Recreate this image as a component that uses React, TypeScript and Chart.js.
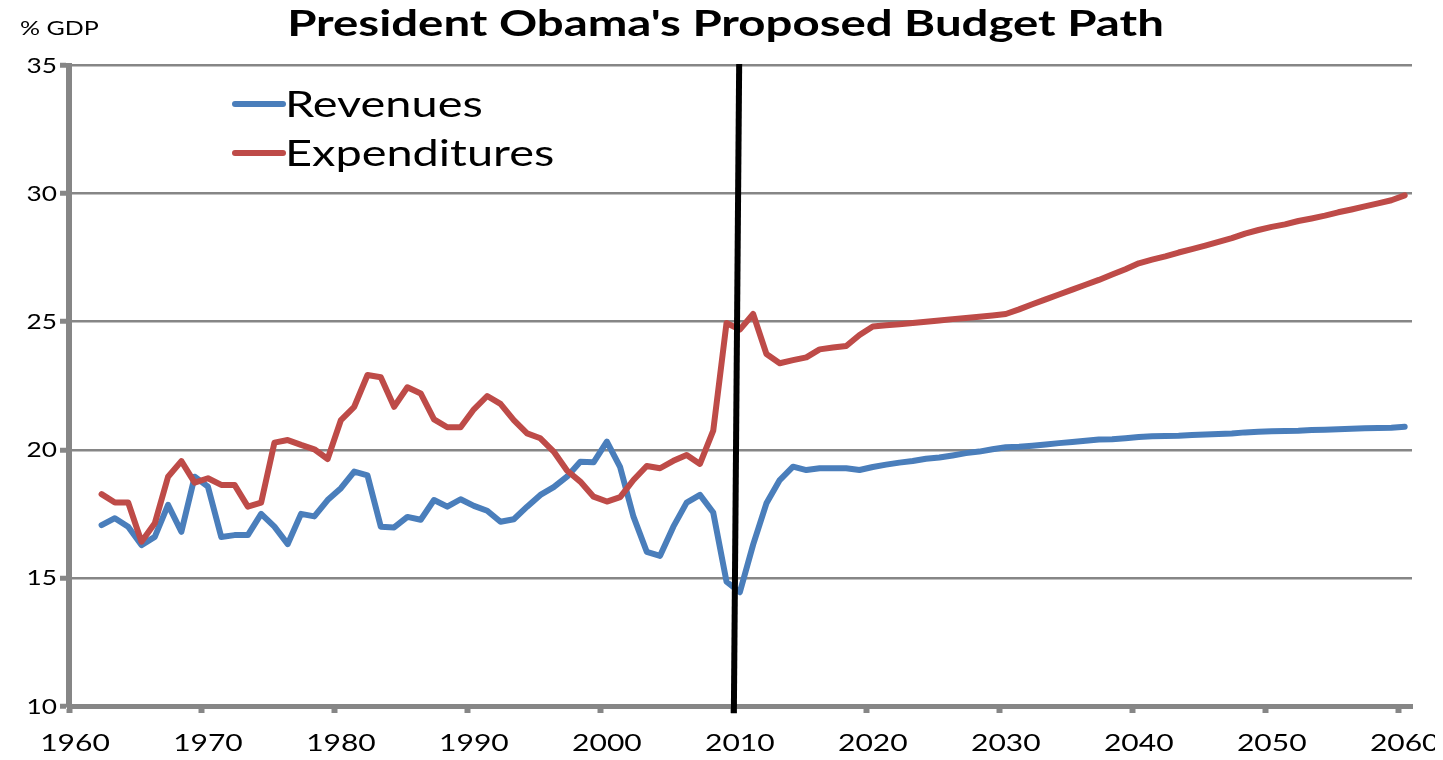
import { useEffect, useRef } from "react";
import { Chart, registerables } from "chart.js";

Chart.register(...registerables);

const TITLE = "President Obama's Proposed Budget Path";
const Y_UNIT = "% GDP";

const YEARS = [
  1962, 1963, 1964, 1965, 1966, 1967, 1968, 1969, 1970, 1971, 1972, 1973, 1974,
  1975, 1976, 1977, 1978, 1979, 1980, 1981, 1982, 1983, 1984, 1985, 1986, 1987,
  1988, 1989, 1990, 1991, 1992, 1993, 1994, 1995, 1996, 1997, 1998, 1999, 2000,
  2001, 2002, 2003, 2004, 2005, 2006, 2007, 2008, 2009, 2010, 2011, 2012, 2013,
  2014, 2015, 2016, 2017, 2018, 2019, 2020, 2021, 2022, 2023, 2024, 2025, 2026,
  2027, 2028, 2029, 2030, 2031, 2032, 2033, 2034, 2035, 2036, 2037, 2038, 2039,
  2040, 2041, 2042, 2043, 2044, 2045, 2046, 2047, 2048, 2049, 2050, 2051, 2052,
  2053, 2054, 2055, 2056, 2057, 2058, 2059, 2060,
];

const REVENUES = [
  17.06, 17.33, 17.0, 16.28, 16.6, 17.85, 16.8, 18.95, 18.56, 16.6, 16.67, 16.67,
  17.5, 17.0, 16.32, 17.5, 17.4, 18.04, 18.5, 19.15, 19.0, 17.0, 16.97, 17.38,
  17.27, 18.04, 17.78, 18.07, 17.81, 17.62, 17.19, 17.29, 17.78, 18.24, 18.54,
  18.95, 19.53, 19.51, 20.32, 19.32, 17.39, 16.02, 15.86, 17.0, 17.94, 18.24,
  17.55, 14.85, 14.44, 16.3, 17.91, 18.82, 19.34, 19.21, 19.28, 19.28, 19.28,
  19.21, 19.33, 19.42, 19.5, 19.56, 19.65, 19.7, 19.78, 19.87, 19.93, 20.02,
  20.1, 20.12, 20.16, 20.21, 20.26, 20.3, 20.35, 20.4, 20.41, 20.45, 20.5, 20.53,
  20.54, 20.55, 20.58, 20.6, 20.62, 20.64, 20.68, 20.7, 20.72, 20.73, 20.74,
  20.77, 20.78, 20.8, 20.82, 20.84, 20.85, 20.86, 20.9,
];

const EXPENDITURES = [
  18.27, 17.94, 17.94, 16.41, 17.13, 18.95, 19.56, 18.72, 18.89, 18.63, 18.63,
  17.78, 17.94, 20.28, 20.38, 20.19, 20.02, 19.64, 21.16, 21.68, 22.92, 22.83,
  21.68, 22.44, 22.2, 21.19, 20.88, 20.88, 21.58, 22.1, 21.79, 21.16, 20.64,
  20.45, 19.93, 19.19, 18.76, 18.17, 17.98, 18.15, 18.82, 19.37, 19.28, 19.57,
  19.8, 19.45, 20.75, 24.95, 24.69, 25.3, 23.74, 23.38, 23.5, 23.61, 23.92,
  23.99, 24.05, 24.48, 24.81, 24.86, 24.9, 24.95, 25.0, 25.05, 25.1, 25.14,
  25.19, 25.24, 25.3, 25.48, 25.68, 25.87, 26.06, 26.25, 26.44, 26.63, 26.84,
  27.05, 27.28, 27.42, 27.55, 27.7, 27.83, 27.97, 28.12, 28.26, 28.44, 28.58,
  28.7, 28.8, 28.93, 29.03, 29.14, 29.27, 29.38, 29.5, 29.62, 29.74, 29.93,
];

// the hand-drawn divider at 2010 (slightly slanted)
const DIVIDER_X = [2010.4, 2010.0];
const DIVIDER_Y = [35.06, 9.72];

const X_TICKS = [1960, 1970, 1980, 1990, 2000, 2010, 2020, 2030, 2040, 2050, 2060];
const Y_TICKS = [10, 15, 20, 25, 30, 35];

// data points sit at mid-year
const MID_YEAR = 0.45;

const BLUE = "#4A7EBB";
const RED = "#BE4B48";
const AXIS = "#868686";
const FONT = "Lato";
const SX = 1.25; // horizontal stretch of the original picture's text

function drawText(
  ctx: CanvasRenderingContext2D,
  text: string,
  x: number,
  y: number,
  font: string,
  align: "left" | "center" | "right",
  sx: number = SX
) {
  ctx.save();
  ctx.font = font;
  ctx.textBaseline = "alphabetic";
  ctx.textAlign = "left";
  const w = ctx.measureText(text).width * sx;
  const left = align === "center" ? x - w / 2 : align === "right" ? x - w : x;
  ctx.translate(left, y);
  ctx.scale(sx, 1);
  ctx.fillStyle = "#000";
  ctx.fillText(text, 0, 0);
  ctx.restore();
}

const textPlugin = {
  id: "textPlugin",
  afterDraw(chart: any) {
    const ctx: CanvasRenderingContext2D = chart.ctx;
    const area = chart.chartArea;
    const xs = chart.scales.x;
    const ys = chart.scales.y;

    drawText(ctx, TITLE, chart.width / 2 + 4, 28, `bold 37px ${FONT}`, "center", 1.28);
    drawText(ctx, Y_UNIT, 12, 27, `20px ${FONT}`, "left");

    ys.ticks.forEach((t: any) => {
      const py = ys.getPixelForValue(t.value);
      drawText(ctx, String(t.value), area.left - 12, py + 7.5, `21px ${FONT}`, "right");
    });
    xs.ticks.forEach((t: any) => {
      const px = xs.getPixelForValue(t.value);
      drawText(ctx, String(t.value), px + 6, area.bottom + 45, `24px ${FONT}`, "center");
    });

    // legend
    const items = chart.data.datasets.slice(0, 2);
    items.forEach((ds: any, i: number) => {
      const cy = 96 + i * 49;
      ctx.save();
      ctx.strokeStyle = ds.borderColor;
      ctx.lineWidth = 6;
      ctx.lineCap = "round";
      ctx.beginPath();
      ctx.moveTo(area.left + 166, cy);
      ctx.lineTo(area.left + 214, cy);
      ctx.stroke();
      ctx.restore();
      drawText(ctx, ds.label, area.left + 216, cy + 13, `37.5px ${FONT}`, "left");
    });
  },
};

export default function App() {
  const ref = useRef<HTMLCanvasElement | null>(null);

  useEffect(() => {
    if (!ref.current) return;
    const chart = new Chart(ref.current, {
      type: "line",
      data: {
        datasets: [
          {
            label: "Revenues",
            data: YEARS.map((yr, i) => ({ x: yr + MID_YEAR, y: REVENUES[i] })),
            borderColor: BLUE,
            backgroundColor: BLUE,
            borderWidth: 6,
            pointRadius: 0,
            tension: 0,
            borderCapStyle: "round",
            borderJoinStyle: "round",
            order: 2,
          },
          {
            label: "Expenditures",
            data: YEARS.map((yr, i) => ({ x: yr + MID_YEAR, y: EXPENDITURES[i] })),
            borderColor: RED,
            backgroundColor: RED,
            borderWidth: 6,
            pointRadius: 0,
            tension: 0,
            borderCapStyle: "round",
            borderJoinStyle: "round",
            order: 1,
          },
          {
            label: "divider",
            data: DIVIDER_X.map((x, i) => ({ x, y: DIVIDER_Y[i] })),
            borderColor: "#000",
            borderWidth: 6,
            pointRadius: 0,
            clip: false,
            order: 0,
          },
        ] as any,
      },
      options: {
        animation: false,
        responsive: false,
        devicePixelRatio: 1,
        layout: { padding: { top: 57.5, right: 23, left: 0, bottom: 0 } },
        plugins: {
          legend: { display: false },
          title: { display: false },
          tooltip: { enabled: false },
        },
        scales: {
          x: {
            type: "linear",
            min: 1960,
            max: 2061,
            afterBuildTicks: (s: any) => {
              s.ticks = X_TICKS.map((v) => ({ value: v }));
            },
            afterFit: (s: any) => {
              s.height = 46;
              s.paddingLeft = 0;
              s.paddingRight = 0;
            },
            grid: {
              drawOnChartArea: false,
              drawTicks: true,
              tickLength: 7,
              tickWidth: 6,
              tickColor: AXIS,
              color: AXIS,
            },
            border: { display: true, color: AXIS, width: 5 },
            ticks: { display: false },
          },
          y: {
            type: "linear",
            min: 10,
            max: 35,
            afterBuildTicks: (s: any) => {
              s.ticks = Y_TICKS.map((v) => ({ value: v }));
            },
            afterFit: (s: any) => {
              s.width = 61;
              s.paddingTop = 0;
              s.paddingBottom = 0;
            },
            grid: {
              color: AXIS,
              lineWidth: 2.5,
              drawTicks: true,
              tickLength: 9,
              tickWidth: 5,
              tickColor: AXIS,
            },
            border: { display: true, color: AXIS, width: 6 },
            ticks: { display: false },
          },
        },
      } as any,
      plugins: [textPlugin],
    });
    return () => chart.destroy();
  }, []);

  return (
    <canvas
      ref={ref}
      width={1427}
      height={744}
      style={{ display: "block", width: 1427, height: 744 }}
    />
  );
}
